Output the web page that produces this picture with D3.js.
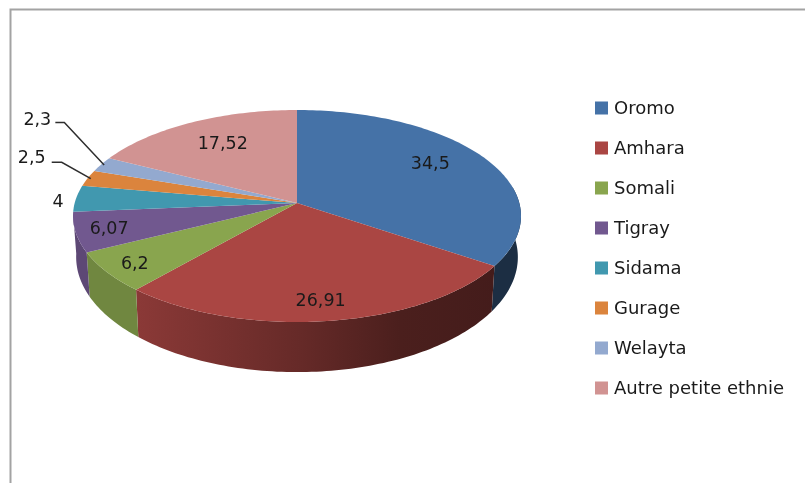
<!DOCTYPE html>
<html>
<head>
<meta charset="utf-8">
<script src="https://cdn.jsdelivr.net/npm/d3@7"></script>
<style>
  html, body { margin: 0; padding: 0; background: #fff; }
  /* the reference is a slightly soft upscaled screenshot */
  svg { display: block; filter: blur(0.4px); }
  text { font-family: "DejaVu Sans", sans-serif; font-size: 17.5px; fill: #1a1a1a; }
  .legend text { font-size: 18px; }
</style>
</head>
<body>
<script>
var categories = ["Oromo", "Amhara", "Somali", "Tigray", "Sidama", "Gurage", "Welayta", "Autre petite ethnie"];
var values = [34.5, 26.91, 6.2, 6.07, 4, 2.5, 2.3, 17.52];
var valueLabels = ["34,5", "26,91", "6,2", "6,07", "4", "2,5", "2,3", "17,52"];
var colors = ["#4572a7", "#aa4643", "#89a54e", "#71588f", "#4198af", "#db843d", "#93a9cf", "#d19392"];

var width = 805;
var height = 483;

// Perspective pie: apex is not the middle of the ellipse
var cx = 297, cy = 203;
var rx = 222.3, ry = 104.4, persp = 0.1226;

// where each label sits: fraction of radius on the slice's mid angle, then a nudge
var labelSpots = [
    [0.706, 0, -7], [0.84, -3, 0], [0.863, 0, 1], [0.853, 0, 0],
    [1.082, 0, 2], [1, -56, -22], [1, -64, -46], [0.684, 0, -3]
];
// slices whose label is tied back with a leader line
var leaders = {5: [[-26, -16], [-36, -16]], 6: [[-37, -42], [-46, -42]]};

var svg = d3.select("body").append("svg").attr("width", width).attr("height", height);

// Chart area border, runs off the right and bottom of the picture
svg.append("path")
    .attr("d", "M10.5," + (height + 5) + "V9.5H" + (width + 5))
    .attr("fill", "none")
    .attr("stroke", "#a3a3a3")
    .attr("stroke-width", 2);

var pie = d3.pie().sort(null).value(function(d){ return d; });
var slices = pie(values);

function top3d(theta, t) {
    var s = t === undefined ? 1 : t;
    var z = -Math.cos(theta) * s;
    var w = 1 - persp * z;
    return [cx + rx * Math.sin(theta) * s / w, cy + ry * z / w];
}

// bottom rim: a bit narrower, and a bit deeper towards the viewer
function bottom3d(theta) {
    var p = top3d(theta);
    return [cx + 0.986 * (p[0] - cx), p[1] + 40 + 0.085 * (p[1] - cy)];
}

function arcPoints(a0, a1, fn) {
    var n = Math.max(2, Math.ceil((a1 - a0) / 0.02));
    return d3.range(n + 1).map(function(i){ return fn(a0 + (a1 - a0) * i / n); });
}

var line = d3.line();
var defs = svg.append("defs");

// side shading, same for every slice: lighter on the left, dark on the right
var shadeStops = [[0, 0.82], [0.457, 0.6], [0.735, 0.44], [1, 0.4]];
colors.forEach(function(c, i){
    var g = defs.append("linearGradient")
        .attr("id", "side" + i)
        .attr("gradientUnits", "userSpaceOnUse")
        .attr("x1", 136).attr("x2", 495).attr("y1", 0).attr("y2", 0);
    var base = d3.rgb(c);
    shadeStops.forEach(function(s){
        g.append("stop")
            .attr("offset", s[0])
            .attr("stop-color", d3.rgb(base.r * s[1], base.g * s[1], base.b * s[1]).formatHex());
    });
});

// Sides first, the top faces are painted over them
var sideFrom = Math.PI * 0.45, sideTo = Math.PI * 1.47;
svg.append("g").selectAll("path")
    .data(slices)
    .enter().append("path")
    .filter(function(d){ return d.endAngle > sideFrom && d.startAngle < sideTo; })
    .attr("fill", function(d){ return "url(#side" + d.index + ")"; })
    .attr("d", function(d){
        var a0 = Math.max(d.startAngle, sideFrom), a1 = Math.min(d.endAngle, sideTo);
        var pts = arcPoints(a0, a1, top3d).concat(arcPoints(a0, a1, bottom3d).reverse());
        return line(pts) + "Z";
    });

svg.append("g").selectAll("path")
    .data(slices)
    .enter().append("path")
    .attr("fill", function(d){ return colors[d.index]; })
    .attr("d", function(d){
        return line([[cx, cy]].concat(arcPoints(d.startAngle, d.endAngle, top3d))) + "Z";
    });

function midAngle(d) { return (d.startAngle + d.endAngle) / 2; }

// Leader lines
svg.append("g").selectAll("path")
    .data(slices.filter(function(d){ return leaders[d.index]; }))
    .enter().append("path")
    .attr("fill", "none")
    .attr("stroke", "#2e2e2e")
    .attr("stroke-width", 1.5)
    .attr("d", function(d){
        var e = top3d(midAngle(d));
        var from = top3d(midAngle(d), 0.985);
        return line([from].concat(leaders[d.index].map(function(o){ return [e[0] + o[0], e[1] + o[1]]; })));
    });

// Value labels
svg.append("g").selectAll("text")
    .data(slices)
    .enter().append("text")
    .attr("text-anchor", "middle")
    .attr("dy", "0.36em")
    .attr("x", function(d){ return top3d(midAngle(d), labelSpots[d.index][0])[0] + labelSpots[d.index][1]; })
    .attr("y", function(d){ return top3d(midAngle(d), labelSpots[d.index][0])[1] + labelSpots[d.index][2]; })
    .text(function(d){ return valueLabels[d.index]; });

// Legend
var legendY = d3.scalePoint().domain(categories).range([108, 388]);

var legend = svg.append("g").attr("class", "legend").selectAll("g")
    .data(categories)
    .enter().append("g")
    .attr("transform", function(d){ return "translate(595," + legendY(d) + ")"; });

legend.append("rect")
    .attr("x", 0).attr("y", -6.5)
    .attr("width", 13).attr("height", 13)
    .attr("fill", function(d, i){ return colors[i]; });

legend.append("text")
    .attr("x", 19)
    .attr("dy", "0.36em")
    .text(function(d){ return d; });
</script>
</body>
</html>
